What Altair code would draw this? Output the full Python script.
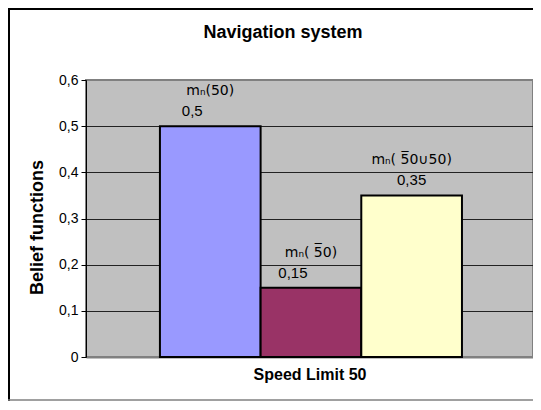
import altair as alt
import pandas as pd

# ---- data ----
chart_title = "Navigation system"
x_title = "Speed Limit 50"
y_title = "Belief functions"
labels = ["m\u2099(50)", "m\u2099( 5\u03050)", "m\u2099( 5\u03050\u222a50)"]
values = [0.5, 0.15, 0.35]
y_ticks = [0, 0.1, 0.2, 0.3, 0.4, 0.5, 0.6]

# ---- styles ----
colors = ["#9999FF", "#993366", "#FFFFCC"]
FONT = "Liberation Sans, Arial, DejaVu Sans, sans-serif"
LABEL_FONT = "DejaVu Sans, Liberation Sans, sans-serif"

df = pd.DataFrame({"label": labels, "value": values, "idx": list(range(len(labels)))})

x_enc = alt.X(
    "label:N",
    sort=labels,
    scale=alt.Scale(paddingInner=0, paddingOuter=0.72, align=0.51),
    axis=alt.Axis(
        title=x_title, labels=False, ticks=False,
        domainColor="#808080", domainWidth=2,
        titleFontSize=16, titleFontWeight="bold",
        titleBaseline="middle", titleY=17,
    ),
)
y_enc = alt.Y(
    "value:Q",
    scale=alt.Scale(domain=[0, 0.6], nice=False),
    axis=alt.Axis(
        values=y_ticks,
        title=y_title,
        labelExpr="datum.value == 0 ? '0' : replace(format(datum.value, '.1f'), '.', ',')",
        labelFontSize=14, labelPadding=3,
        tickSize=5, tickColor="black", tickWidth=1,
        domainColor="black", domainWidth=1,
        gridColor={"condition": {"test": "datum.value == 0 || datum.value == 0.6", "value": "#808080"}, "value": "#222222"},
        gridWidth=1,
        titleX=-49, titleY=147, titleAngle=270,
        titleAlign="center", titleBaseline="middle",
        titleFontSize=18, titleFontWeight="bold",
    ),
)

base = alt.Chart(df)

bars = base.mark_bar(stroke="black", strokeWidth=2).encode(
    x=x_enc,
    y=y_enc,
    color=alt.Color("label:N", scale=alt.Scale(domain=labels, range=colors), legend=None),
)

names = base.mark_text(baseline="middle", dy=-35, fontSize=14, font=LABEL_FONT, color="black").encode(
    x=alt.X("label:N", sort=labels), y="value:Q", text="label:N"
)

vals = base.transform_calculate(vtxt="replace(format(datum.value, '.2~f'), '.', ',')")
vals_a = vals.transform_filter("datum.idx < 2").mark_text(
    baseline="middle", dx=-18, dy=-15, fontSize=15, font=FONT, color="black"
).encode(x=alt.X("label:N", sort=labels), y="value:Q", text="vtxt:N")
vals_b = vals.transform_filter("datum.idx == 2").mark_text(
    baseline="middle", dy=-15, fontSize=15, font=FONT, color="black"
).encode(x=alt.X("label:N", sort=labels), y="value:Q", text="vtxt:N")

title_layer = alt.Chart(pd.DataFrame({"t": [chart_title]})).mark_text(
    fontSize=18, fontWeight="bold", font=FONT, baseline="middle", align="center", color="black"
).encode(text="t:N", x=alt.value(197), y=alt.value(-47))

one = pd.DataFrame({"k": [0]})
frame_left = alt.Chart(one).mark_rule(color="black", strokeWidth=2).encode(
    x=alt.value(-77), y=alt.value(-71), y2=alt.value(321)
)
frame_top = alt.Chart(one).mark_rule(color="black", strokeWidth=2).encode(
    x=alt.value(-78), x2=alt.value(470), y=alt.value(-71)
)
frame_bottom = alt.Chart(one).mark_rule(color="#808080", strokeWidth=1.5).encode(
    x=alt.value(-78), x2=alt.value(470), y=alt.value(320)
)

chart = alt.layer(
    frame_left, frame_top, frame_bottom, bars, names, vals_a, vals_b, title_layer
).properties(
    width=447,
    height=277,
    autosize=alt.AutoSizeParams(type="none"),
    padding={"left": 78, "top": 72, "right": 0, "bottom": 45},
    background="white",
).configure_view(
    fill="#C0C0C0", stroke="#808080", strokeWidth=2
).configure_axis(
    labelFont=FONT, titleFont=FONT, labelColor="black", titleColor="black"
)

chart.save("out.html", embed_options={"renderer": "svg", "actions": False})
